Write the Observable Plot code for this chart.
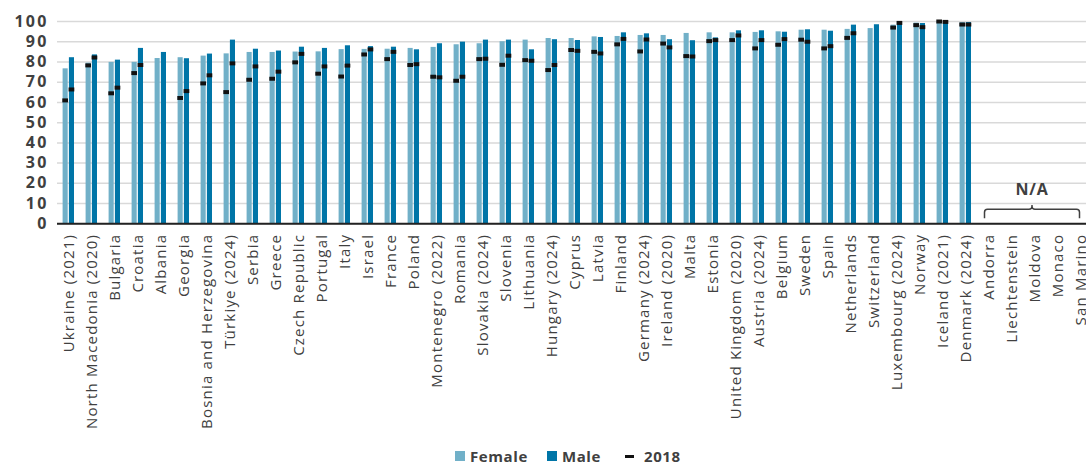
<!DOCTYPE html>
<html>
<head>
<meta charset="utf-8">
<script src="https://cdn.jsdelivr.net/npm/d3@7"></script>
<script src="https://cdn.jsdelivr.net/npm/@observablehq/plot@0.6"></script>
<style>
  html, body { margin: 0; padding: 0; background: #fff; overflow: hidden; }
  #wrap { position: relative; width: 1086px; height: 466px; overflow: hidden; }
  #chart svg { max-width: none !important; }
  g[aria-label="x-axis tick label"] text { letter-spacing: 1.2px; }
  g[aria-label="y-axis tick label"] text { letter-spacing: 2.2px; }
  #legend { position: absolute; left: 455px; top: 448px; display: flex; align-items: center; line-height: 16px;
    font-family: "Open Sans", sans-serif; font-weight: 700; font-size: 15px; color: #404040; letter-spacing: 0.6px; }
  .sw { width: 10px; height: 10px; margin-right: 5px; }
  .item { display: flex; align-items: center; margin-right: 19px; }
  .dash { width: 9px; height: 3px; background: #111; margin-right: 10px; }
</style>
</head>
<body>
<div id="wrap"><div id="chart"></div>
<div id="legend">
  <div class="item"><div class="sw" style="background:#71b0c8"></div>Female</div>
  <div class="item" style="margin-right:24px"><div class="sw" style="background:#0075a7"></div>Male</div>
  <div class="item"><div class="dash"></div>2018</div>
</div>
</div>
<script>
const countries = ["Ukraine (2021)", "North Macedonia (2020)", "Bulgaria", "Croatia", "Albania", "Georgia",
  "Bosnia and Herzegovina", "Türkiye (2024)", "Serbia", "Greece", "Czech Republic", "Portugal", "Italy",
  "Israel", "France", "Poland", "Montenegro (2022)", "Romania", "Slovakia (2024)", "Slovenia", "Lithuania",
  "Hungary (2024)", "Cyprus", "Latvia", "Finland", "Germany (2024)", "Ireland (2020)", "Malta", "Estonia",
  "United Kingdom (2020)", "Austria (2024)", "Belgium", "Sweden", "Spain", "Netherlands", "Switzerland",
  "Luxembourg (2024)", "Norway", "Iceland (2021)", "Denmark (2024)",
  "Andorra", "Liechtenstein", "Moldova", "Monaco", "San Marino"];
const female = [76.6, 79.4, 79.8, 79.8, 81.7, 82.1, 82.9, 84.0, 84.7, 84.7, 84.9, 85.0, 86.1,
  86.2, 86.3, 86.7, 87.2, 88.5, 89.0, 90.0, 90.8, 91.6, 91.6, 92.4, 92.6, 93.1, 93.1, 94.1, 94.4,
  94.4, 94.6, 94.9, 95.7, 95.7, 96.1, 96.5, 98.2, 99.2, 100, 99.5,
  null, null, null, null, null];
const male = [82.1, 83.5, 80.9, 86.7, 84.7, 81.6, 83.9, 90.8, 86.3, 85.4, 87.3, 86.7, 88.0,
  87.6, 87.3, 86.0, 89.0, 89.8, 90.8, 90.8, 86.0, 91.0, 90.6, 92.1, 94.4, 93.9, 91.0, 90.5, 91.9,
  95.4, 95.4, 94.7, 95.9, 95.2, 98.2, 98.4, 100, 99.0, 100, 99.5,
  null, null, null, null, null];
const female2018 = [61.0, 78.3, 64.5, 74.5, null, 62.2, 69.4, 65.1, 71.2, 71.7, 79.8, 74.2, 72.8,
  83.7, 81.4, 78.5, 72.7, 70.7, 81.4, 78.6, 80.9, 76.0, 85.9, 85.0, 88.7, 85.2, 89.1, 82.9, 90.3,
  90.8, 86.7, 88.5, 91.0, 86.7, 91.9, null, 97.0, 98.2, 100, 98.5,
  null, null, null, null, null];
const male2018 = [66.4, 82.2, 67.3, 78.5, null, 65.6, 73.4, 79.3, 77.8, 75.2, 84.0, 77.8, 78.2,
  86.2, 85.0, 78.9, 72.4, 72.7, 81.6, 83.1, 80.6, 78.5, 85.5, 84.2, 91.4, 91.1, 87.2, 82.7, 90.8,
  93.1, 90.8, 91.3, 90.0, 87.8, 94.2, null, 99.3, 97.2, 99.8, 98.5,
  null, null, null, null, null];
const yTicks = [0, 10, 20, 30, 40, 50, 60, 70, 80, 90, 100];
const naLabel = "N/A";

const rows = countries.map((c, i) => ({country: c, female: female[i], male: male[i], f18: female2018[i], m18: male2018[i]}));
const FEMALE = "#71b0c8", MALE = "#0075a7";

const plot = Plot.plot({
  width: 1092, height: 448,
  marginLeft: 57, marginRight: 0, marginTop: 21, marginBottom: 224.7,
  style: {fontFamily: "Open Sans, sans-serif", color: "#404040", background: "#fff", overflow: "visible", maxWidth: "none"},
  x: {domain: countries, padding: 0, axis: null, label: null},
  y: {domain: [0, 100], axis: null, label: null},
  marks: [
    Plot.gridY(yTicks, {stroke: "#d9d9d9", strokeOpacity: 1, strokeWidth: 1.5}),
    Plot.axisY(yTicks, {tickSize: 0, tickPadding: 9, fontSize: 16, fontWeight: 700, label: null}),
    Plot.barY(rows.filter(d => d.female != null), {x: "country", y: "female", fill: FEMALE, insetLeft: 5.6, insetRight: 12.3}),
    Plot.barY(rows.filter(d => d.male != null), {x: "country", y: "male", fill: MALE, insetLeft: 11.9, insetRight: 6.0}),
    Plot.tickY(rows.filter(d => d.f18 != null), {x: "country", y: "f18", stroke: "#111", strokeWidth: 4, insetLeft: 5.3, insetRight: 12.0}),
    Plot.tickY(rows.filter(d => d.m18 != null), {x: "country", y: "m18", stroke: "#111", strokeWidth: 4, insetLeft: 11.6, insetRight: 5.7}),
    Plot.ruleY([0], {stroke: "#222", strokeWidth: 2}),
    Plot.axisX({tickRotate: -90, tickSize: 0, tickPadding: 10, fontSize: 15, label: null})
  ]
});
document.getElementById("chart").appendChild(plot);

// N/A bracket positioned from the chart's own scales
const xs = plot.scale("x"), ys = plot.scale("y");
const bw = xs.bandwidth;
const L = xs.apply("Andorra") + bw / 2 - 4;
const R = xs.apply("San Marino") + bw / 2 - 1;
const M = (L + R) / 2;
const yb = ys.apply(2.5), yt = ys.apply(7), yp = ys.apply(9);
const r = 3;
const svg = d3.select(plot);
svg.append("path")
  .attr("d", `M${L},${yb} L${L},${yt + r} Q${L},${yt} ${L + r},${yt} L${M - r},${yt} Q${M},${yt} ${M},${yt - r} L${M},${yp} M${M},${yt - r} Q${M},${yt} ${M + r},${yt} L${R - r},${yt} Q${R},${yt} ${R},${yt + r} L${R},${yb}`)
  .attr("fill", "none").attr("stroke", "#404040").attr("stroke-width", 1.5);
svg.append("text")
  .attr("x", M).attr("y", ys.apply(16))
  .attr("text-anchor", "middle").attr("dominant-baseline", "middle")
  .attr("font-size", 16).attr("font-weight", 700).attr("fill", "#404040")
  .style("letter-spacing", "0.8px")
  .text(naLabel);
</script>
</body>
</html>
